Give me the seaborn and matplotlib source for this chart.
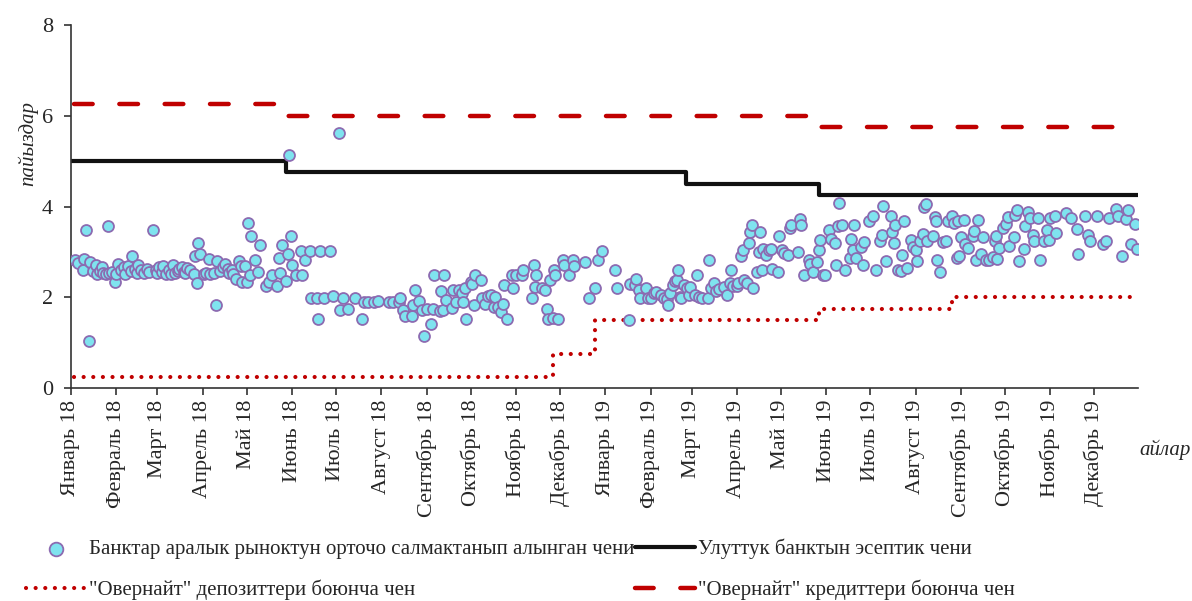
import pandas as pd
import numpy as np
import matplotlib.pyplot as plt
import seaborn as sns

# interbank rate: day offset from 2018-01-01 and rate
days_18 = [3, 5, 8, 9, 10, 12, 13, 15, 17, 18, 20, 21, 22, 24, 25, 26, 28, 30, 31, 32,
           34, 36, 37, 39, 41, 42, 44, 45, 46, 48, 50, 52, 53, 56, 58, 59, 60, 62, 63, 65,
           67, 68, 70, 71, 73, 74, 76, 77, 78, 79, 81, 84, 85, 86, 87, 88, 91, 92, 94, 95,
           98, 99, 100, 102, 104, 105, 107, 108, 110, 111, 113, 115, 116, 117,
           119, 120, 121, 122, 123, 126, 128, 129, 133, 135, 137, 141, 142, 143, 144, 147,
           148, 149, 150, 151, 154, 157, 158, 160, 163, 164, 168, 169, 170, 173, 177, 179,
           183, 184, 186, 189, 194, 199, 200, 203, 207, 210, 217, 220, 224, 225, 227, 228,
           233, 234, 235, 238, 240, 241, 243, 246, 247, 248, 252, 253, 254, 255, 256, 260,
           261, 263, 265, 267, 268, 269, 270, 273, 274, 275, 276, 280, 281, 283, 285, 287,
           289, 290, 292, 294, 295, 296, 298, 301, 302, 304, 308, 309, 315, 316, 317, 318,
           322, 324, 325, 326, 327, 329, 330, 331, 333, 336, 337, 340, 343, 344, 351, 354,
           358, 360, 363]
rate_18 = [2.82, 2.75, 2.61, 2.85, 3.48, 1.03, 2.77, 2.58, 2.70, 2.51, 2.58, 2.67, 2.54, 2.51, 3.58, 2.53, 2.55, 2.34, 2.51, 2.74,
           2.61, 2.66, 2.51, 2.69, 2.57, 2.92, 2.62, 2.53, 2.70, 2.60, 2.53, 2.63, 2.55, 3.48, 2.61, 2.53, 2.66, 2.55, 2.69, 2.51,
           2.60, 2.52, 2.70, 2.54, 2.58, 2.63, 2.66, 2.55, 2.53, 2.65, 2.61, 2.51, 2.90, 2.31, 3.19, 2.96, 2.51, 2.53, 2.85, 2.51,
           2.53, 1.84, 2.79, 2.58, 2.66, 2.74, 2.63, 2.53, 2.60, 2.51, 2.40, 2.79, 2.69, 2.34,
           2.68, 2.33, 3.64, 2.50, 3.36, 2.82, 2.55, 3.15, 2.24, 2.33, 2.48, 2.24, 2.87, 2.54, 3.15, 2.36,
           2.96, 5.14, 3.36, 2.71, 2.50, 3.01, 2.50, 2.81, 3.01, 1.99, 1.99, 1.51, 3.01, 1.99, 3.01, 2.02,
           5.62, 1.71, 1.99, 1.74, 1.99, 1.51, 1.89, 1.89, 1.89, 1.91, 1.89, 1.89, 1.89, 1.99, 1.71, 1.58,
           1.58, 1.82, 2.17, 1.91, 1.73, 1.14, 1.74, 1.40, 1.74, 2.50, 1.69, 2.13, 1.72, 2.50, 1.93, 1.77,
           2.15, 1.89, 2.15, 2.10, 1.89, 2.21, 1.52, 2.33, 2.30, 1.84, 2.50, 2.37, 1.99, 1.85, 2.02, 2.06,
           1.79, 2.01, 1.79, 1.67, 1.85, 2.26, 1.51, 2.50, 2.21, 2.50, 2.50, 2.61, 1.99, 2.72, 2.23, 2.50,
           2.21, 2.15, 1.74, 1.51, 2.37, 1.55, 2.61, 2.50, 1.51, 2.83, 2.72, 2.50, 2.83, 2.68, 2.77, 1.99,
           2.21, 2.81, 3.01]

days_19 = [372, 373, 381, 382, 385, 386, 388, 389, 393, 394, 396, 398, 400, 403, 405, 407, 408, 409, 411, 413,
           414, 415, 416, 417, 419, 421, 422, 423, 426, 428, 429, 431, 435, 436, 437, 439, 441, 443, 446, 448,
           450, 451, 452, 455, 456, 458, 459, 460, 462, 463, 464, 465, 466, 469, 470, 471, 472, 473, 475, 477,
           478, 479, 483, 484, 486, 487, 490, 491, 492, 497, 498, 499, 501, 504, 505, 507, 510, 511, 512, 514,
           515, 518, 519, 522, 523, 524, 525, 527, 529, 532, 533, 534, 535, 536, 540, 541, 542, 545, 548, 550,
           553, 554, 555, 557, 560, 561, 562, 563, 565, 567, 568, 569, 571, 574, 575, 577, 578, 580, 582, 583,
           584, 585, 589, 590, 591, 592, 594, 596, 598, 599, 602, 603, 605, 606, 607, 608, 610, 611, 613, 616,
           617, 618, 620, 622, 623, 625, 627, 630, 631, 632, 633, 634, 637, 639, 640, 641, 644, 645, 646, 648,
           651, 652, 654, 655, 657, 658, 661, 662, 665, 667, 668, 669, 672, 673, 680, 683, 687, 688, 693, 695,
           696, 701, 705, 707, 709, 714, 715, 718, 721, 722, 724, 727, 728]
rate_19 = [2.61, 2.21, 1.49, 2.30, 2.28, 2.40, 2.17, 1.99, 2.21, 1.99, 1.99, 2.10, 2.12, 2.06, 1.99, 1.97, 1.84, 2.10, 2.26, 2.35,
           2.39, 2.61, 2.01, 1.99, 2.28, 2.21, 2.06, 2.23, 2.06, 2.48, 2.01, 1.99, 1.99, 2.81, 2.21, 2.32, 2.14, 2.19, 2.23, 2.06,
           2.32, 2.61, 2.25, 2.25, 2.32, 2.92, 3.04, 2.39, 2.32, 3.20, 3.43, 3.60, 2.21, 2.55, 2.99, 3.43, 2.61, 3.06, 2.94, 3.05,
           3.06, 2.63, 2.55, 3.36, 3.05, 2.98, 2.94, 3.53, 3.60, 3.00, 3.73, 3.60, 2.50, 2.83, 2.74, 2.55, 2.77, 3.05, 3.26, 2.50,
           2.50, 3.49, 3.29, 3.19, 2.72, 3.56, 4.08, 3.60, 2.61, 2.87, 3.28, 3.05, 3.60, 2.87, 3.10, 2.70, 3.22, 3.67, 3.80, 2.61,
           3.24, 3.38, 4.02, 2.79, 3.80, 3.44, 3.20, 3.60, 2.60, 2.58, 2.94, 3.67, 2.65, 3.27, 3.10, 3.05, 2.79, 3.24, 3.40, 4.00,
           4.06, 3.24, 3.34, 3.77, 3.69, 2.81, 2.55, 3.22, 3.24, 3.69, 3.80, 3.64, 2.87, 3.69, 2.90, 3.33, 3.71, 3.18, 3.09, 3.36,
           3.45, 2.82, 3.71, 2.96, 3.33, 2.83, 2.82, 2.89, 3.25, 3.35, 2.84, 3.09, 3.52, 3.62, 3.77, 3.13, 3.33, 3.82, 3.92, 2.79,
           3.07, 3.58, 3.87, 3.75, 3.38, 3.25, 3.75, 2.82, 3.25, 3.48, 3.27, 3.75, 3.80, 3.41, 3.85, 3.75, 3.51, 2.96, 3.80, 3.38,
           3.24, 3.80, 3.17, 3.24, 3.75, 3.95, 3.80, 2.92, 3.72, 3.92, 3.17, 3.62, 3.07]

# step lines: change dates and levels
policy_dates = ['2018-01-01', '2018-05-28', '2019-02-25', '2019-05-27', '2019-12-31']
policy_rate = [5.0, 4.75, 4.5, 4.25, 4.25]
credit_dates = ['2018-01-03', '2018-05-28', '2019-05-27', '2019-12-31']
credit_rate = [6.25, 6.0, 5.75, 5.75]
deposit_dates = ['2018-01-03', '2018-11-26', '2018-12-25', '2019-05-27', '2019-08-26', '2019-12-31']
deposit_rate = [0.25, 0.75, 1.5, 1.75, 2.0, 2.0]

month_names = ['Январь', 'Февраль', 'Март', 'Апрель', 'Май', 'Июнь', 'Июль',
               'Август', 'Сентябрь', 'Октябрь', 'Ноябрь', 'Декабрь']

lbl_ibr = 'Банктар аралык рыноктун орточо салмактанып алынган чени'
lbl_policy = 'Улуттук банктын эсептик чени'
lbl_dep = '"Овернайт" депозиттери боюнча чен'
lbl_cred = '"Овернайт" кредиттери боюнча чен'

start = pd.Timestamp('2018-01-01')
ibr = pd.DataFrame({'day': days_18 + days_19, 'rate': rate_18 + rate_19})
ibr['date'] = start + pd.to_timedelta(ibr['day'], unit='D')

policy = pd.DataFrame({'date': pd.to_datetime(policy_dates), 'rate': policy_rate})
credit = pd.DataFrame({'date': pd.to_datetime(credit_dates), 'rate': credit_rate})
deposit = pd.DataFrame({'date': pd.to_datetime(deposit_dates), 'rate': deposit_rate})

sns.set_style('ticks')
plt.rcParams['font.family'] = ['Liberation Serif', 'DejaVu Serif']
plt.rcParams['font.size'] = 15

fig = plt.figure(figsize=(11.92, 6.01), dpi=100)
ax = fig.add_axes([71 / 1192, 1 - 388 / 601, (1138 - 71) / 1192, (388 - 25) / 601])

red = '#C00000'
sns.lineplot(data=credit, x='date', y='rate', ax=ax, color=red, lw=3.2,
             drawstyle='steps-post', label=lbl_cred,
             dashes=False, linestyle=(0, (4.2, 6.0)), dash_capstyle='round')
sns.lineplot(data=policy, x='date', y='rate', ax=ax, color='#111111', lw=3.0,
             drawstyle='steps-post', label=lbl_policy)
sns.lineplot(data=deposit, x='date', y='rate', ax=ax, color=red, lw=3.0,
             drawstyle='steps-post', label=lbl_dep,
             dashes=False, linestyle=(0, (0.01, 2.3)), dash_capstyle='round')
sns.scatterplot(data=ibr, x='date', y='rate', ax=ax, s=62, color='#7FE3EF',
                edgecolor='#8C6BB1', linewidth=1.3, label=lbl_ibr, zorder=5)

ax.set_xlim(start, pd.Timestamp('2019-12-31'))
ax.set_ylim(0, 8)
ax.set_yticks([0, 2, 4, 6, 8])
ticks = pd.date_range('2018-01-01', '2019-12-01', freq='MS')
ax.set_xticks(ticks)
ax.set_xticklabels([f'{month_names[t.month - 1]} {t.year % 100}' for t in ticks], rotation=90)
ax.tick_params(axis='both', direction='out', length=5, width=1.2, color='#333333', labelsize=16)
ax.tick_params(axis='y', pad=8)
for s in ['top', 'right']:
    ax.spines[s].set_visible(False)
for s in ['left', 'bottom']:
    ax.spines[s].set_color('#333333')
    ax.spines[s].set_linewidth(1.2)
ax.set_xlabel('')
ax.set_ylabel('')

fig.text(28 / 1192, 1 - 143 / 601, 'пайыздар', rotation=90, style='italic',
         ha='center', va='center', fontsize=15)
fig.text(1165 / 1192, 1 - 450 / 601, 'айлар', style='italic', ha='center', va='center', fontsize=15)

ax.get_legend().remove()
h, l = ax.get_legend_handles_labels()
order = [l.index(lbl_ibr), l.index(lbl_dep), l.index(lbl_policy), l.index(lbl_cred)]
fig.legend([h[i] for i in order], [l[i] for i in order], ncol=2, frameon=False,
           loc='upper left', bbox_to_anchor=(0.006, 0.135), fontsize=15,
           handlelength=2.9, handletextpad=0.15, columnspacing=0.0, labelspacing=1.0,
           markerscale=1.25)

fig.savefig('out.png', dpi=100)
